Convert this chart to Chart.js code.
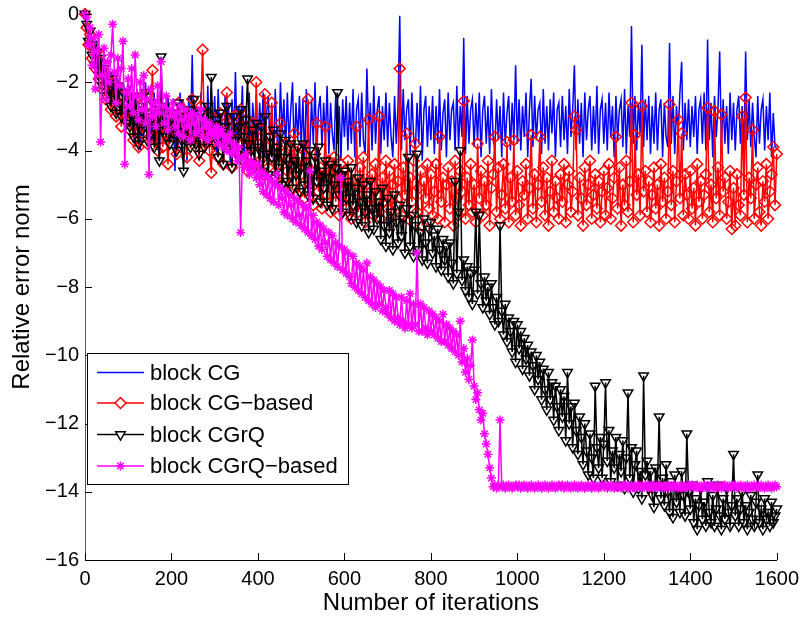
<!DOCTYPE html>
<html>
<head>
<meta charset="utf-8">
<script src="https://cdn.jsdelivr.net/npm/chart.js@4.4.0/dist/chart.umd.min.js"></script>
<style>
  html, body { margin: 0; padding: 0; background: #fff; }
</style>
</head>
<body>
<canvas id="chart" width="806" height="618"></canvas>
<script>
const iterations = Array.from({length: 401}, (_, i) => i * 4);

const blockCG = [
  0, -0.3, -0.7, -0.5, -1.0, -0.8, -1.3, -0.9, -1.5, -1.2, -1.8, -1.4, -2.0, -1.6, -1.9, -2.3, -1.7, -2.2, -2.6, -1.9, -2.4, -2.0, -2.7, -2.2, -2.5,
  -2.8, -2.1, -3.4, -2.6, -3.9, -2.2, -3.1, -4.0, -2.5, -3.6, -2.0, -3.3, -4.2, -2.6, -3.7, -2.3, -3.9, -2.8, -4.3, -2.2, -3.5, -2.7, -3.8, -2.4, -3.3,
  -3.6, -2.5, -4.6, -2.8, -3.9, -2.3, -4.1, -2.6, -3.5, -4.3, -2.4, -3.7, -1.2, -3.9, -2.7, -3.4, -4.2, -2.3, -3.6, -2.6, -4.0, -2.1, -3.8, -2.8, -3.5,
  -2.4, -4.1, -2.2, -3.7, -2.9, -4.3, -2.4, -3.8, -2.6, -4.4, -2.5, -3.6, -1.7, -4.0, -2.7, -3.5, -2.1, -4.2, -2.8, -3.9, -2.3, -4.4, -2.6, -3.6, -2.4,
  -3.9, -2.6, -3.7, -2.3, -4.2, -2.9, -2.4, -4.0, -2.7, -4.3, -2.2, -3.6, -4.1, -2.0, -3.5, -2.5, -4.0, -2.3, -3.8, -2.8, -2.0, -4.2, -2.6, -3.7, -2.4,
  -3.9, -2.5, -4.3, -2.2, -3.6, -4.0, -2.5, -3.8, -2.0, -4.2, -2.8, -2.4, -3.9, -2.6, -3.7, -2.1, -4.1, -2.6, -3.5, -4.0, -2.3, -3.8, -2.7, -4.3, -2.5,
  -3.6, -2.4, -4.0, -2.6, -3.8, -2.2, -4.2, -2.8, -2.5, -3.9, -2.3, -3.7, -4.1, -1.6, -3.5, -2.6, -4.0, -2.1, -3.8, -2.8, -2.4, -4.1, -2.7, -3.7, -2.3,
  -3.9, -2.6, -3.6, -4.2, -2.4, -3.8, -2.7, -0.05, -4.0, -2.2, -3.7, -2.8, -2.5, -4.1, -2.3, -3.6, -4.0, -2.6, -3.8, -2.1, -4.3, -2.8, -2.4, -3.9, -2.7,
  -3.7, -2.4, -4.1, -2.7, -3.8, -2.2, -4.0, -2.9, -2.5, -4.2, -2.3, -3.7, -2.8, -2.6, -4.0, -2.1, -3.9, -2.7, -3.6, -0.7, -4.1, -2.4, -3.8, -2.8, -2.5,
  -3.9, -2.6, -3.7, -2.3, -4.2, -2.8, -2.4, -3.8, -2.7, -4.1, -2.2, -3.6, -4.0, -2.5, -3.7, -2.7, -4.2, -2.3, -3.8, -2.9, -2.4, -4.0, -2.6, -3.7, -1.5,
  -3.8, -2.5, -4.0, -2.7, -3.6, -2.3, -4.2, -2.8, -1.9, -3.9, -2.4, -3.7, -2.8, -2.6, -4.1, -2.2, -3.8, -2.7, -4.0, -2.5, -3.5, -2.3, -4.2, -2.8, -2.6,
  -3.9, -2.4, -3.7, -2.7, -4.1, -2.2, -3.6, -2.8, -1.5, -4.0, -2.5, -3.8, -2.6, -4.2, -2.3, -3.7, -2.8, -2.4, -4.0, -2.7, -3.8, -2.1, -4.1, -2.8, -2.5,
  -3.8, -2.6, -4.0, -2.3, -3.6, -2.7, -4.2, -2.4, -3.7, -2.8, -2.5, -3.9, -2.2, -4.1, -2.7, -3.6, -0.35, -3.8, -2.4, -4.0, -2.6, -3.5, -0.9, -3.9, -2.5,
  -3.7, -2.4, -4.1, -2.7, -3.8, -2.3, -4.0, -2.8, -2.5, -4.2, -2.6, -3.6, -3.9, -0.85, -3.8, -2.4, -4.1, -2.7, -3.5, -2.3, -1.4, -4.0, -2.6, -3.7, -2.5,
  -3.9, -2.7, -3.6, -2.4, -4.1, -2.8, -2.5, -3.8, -2.3, -4.0, -0.75, -3.7, -2.6, -4.2, -2.4, -3.6, -2.8, -1.1, -3.9, -2.5, -3.8, -2.7, -4.1, -2.3, -3.7,
  -2.6, -4.0, -2.8, -2.4, -3.8, -2.7, -4.1, -1.1, -3.7, -2.5, -3.9, -2.6, -3.6, -4.2, -2.4, -3.8, -2.8, -2.5, -4.0, -2.7, -3.7, -2.3, -4.2, -2.9, -3.9,
  -3.9
];

const blockCGBased = [
  0, -0.4, -0.9, -0.6, -1.3, -1.0, -1.6, -1.1, -1.9, -1.4, -2.2, -1.7, -2.5, -1.9, -2.3, -2.8, -2.0, -2.6, -3.0, -2.2, -2.7, -3.3, -2.4, -2.9, -3.1,
  -2.6, -3.4, -2.8, -3.7, -2.5, -3.2, -3.9, -2.7, -3.5, -3.0, -2.4, -3.8, -3.1, -2.9, -1.65, -3.6, -3.0, -4.0, -2.7, -3.3, -3.9, -2.8, -3.5, -4.4, -3.2,
  -2.9, -3.6, -3.2, -4.1, -2.6, -3.4, -3.8, -2.8, -3.5, -4.2, -3.0, -3.7, -2.5, -3.3, -3.9, -3.1, -4.3, -2.7, -1.05, -3.5, -3.8, -3.0, -4.0, -4.65, -3.3,
  -3.7, -3.1, -4.2, -2.9, -3.6, -4.4, -3.2, -2.3, -3.9, -3.4, -4.5, -3.0, -3.7, -4.1, -3.3, -2.8, -4.3, -3.6, -3.1, -4.6, -3.5, -3.9, -3.2, -4.4, -2.0,
  -3.8, -4.3, -3.4, -4.7, -2.35, -3.9, -4.5, -3.6, -2.6, -4.2, -4.8, -3.7, -4.4, -3.2, -5.0, -4.1, -3.8, -4.6, -5.2, -3.9, -4.4, -3.5, -4.9, -5.3, -4.2,
  -4.7, -3.9, -5.4, -4.4, -2.5, -5.0, -4.6, -5.6, -4.1, -3.2, -5.2, -4.5, -5.7, -4.8, -3.3, -5.3, -4.3, -5.8, -4.9, -4.2, -5.5, -4.6, -5.9, -4.4, -5.1,
  -4.6, -5.7, -4.3, -5.4, -6.0, -4.9, -5.2, -3.3, -5.8, -4.5, -5.5, -4.2, -6.1, -5.0, -3.1, -5.6, -4.7, -5.9, -4.4, -5.3, -3.0, -6.0, -4.8, -5.5, -4.3,
  -5.7, -4.6, -6.1, -5.0, -4.4, -5.6, -4.9, -1.6, -5.9, -4.5, -5.3, -3.5, -6.0, -4.8, -5.5, -4.3, -3.8, -5.8, -5.1, -4.6, -6.2, -4.9, -5.4, -4.4, -5.7,
  -4.7, -5.9, -5.2, -4.4, -6.0, -3.6, -5.5, -4.8, -6.1, -5.0, -4.5, -5.7, -4.9, -6.2, -4.3, -5.4, -5.9, -4.6, -5.2, -2.55, -6.0, -4.8, -5.6, -4.4, -5.8,
  -5.0, -6.1, -3.8, -5.4, -4.6, -5.9, -4.9, -5.6, -4.3, -6.2, -5.1, -4.7, -3.6, -5.8, -4.5, -6.0, -5.3, -4.4, -5.7, -3.75, -6.1, -4.8, -5.5, -3.7, -5.9,
  -4.6, -5.6, -6.2, -4.9, -5.3, -4.4, -6.0, -5.1, -3.55, -5.7, -4.7, -6.1, -5.0, -3.6, -5.5, -4.5, -5.9, -4.8, -6.2, -5.2, -4.3, -5.8, -4.9, -5.4, -6.0,
  -4.7, -5.5, -4.4, -6.1, -5.0, -4.6, -5.8, -5.2, -3.0, -3.4, -5.9, -4.8, -5.4, -6.2, -4.5, -5.6, -5.0, -4.3, -6.0, -5.3, -4.7, -5.7, -4.9, -6.1, -5.2,
  -4.6, -5.9, -5.1, -4.4, -6.0, -5.4, -4.8, -3.6, -5.7, -4.5, -6.2, -5.0, -5.6, -4.3, -5.8, -4.9, -2.6, -6.1, -3.55, -5.3, -4.7, -5.9, -2.7, -5.2, -4.6,
  -5.8, -4.9, -6.1, -5.3, -4.5, -5.7, -5.0, -6.2, -4.4, -5.5, -4.8, -6.0, -5.2, -2.65, -5.6, -4.6, -6.1, -4.9, -3.1, -5.4, -3.5, -5.9, -4.7, -5.3, -6.0,
  -4.6, -5.7, -5.1, -6.2, -4.4, -5.5, -4.9, -6.0, -5.3, -4.7, -2.75, -5.8, -5.0, -6.1, -2.85, -5.4, -4.5, -5.9, -2.95, -5.2, -4.8, -6.0, -5.5, -4.6, -6.3,
  -5.1, -6.2, -4.7, -5.6, -5.9, -3.0, -5.3, -2.45, -6.1, -4.8, -5.4, -3.4, -6.0, -5.0, -4.5, -5.8, -6.2, -4.9, -5.5, -4.4, -6.0, -5.2, -4.7, -3.9, -5.6,
  -4.1
];

const blockCGrQ = [
  0, -0.3, -0.8, -0.5, -1.2, -0.9, -1.5, -1.1, -1.8, -1.3, -2.1, -1.6, -2.4, -1.8, -2.2, -2.7, -1.9, -2.5, -2.9, -2.1, -2.6, -3.0, -2.3, -2.8, -3.2,
  -2.5, -3.3, -2.8, -3.6, -2.4, -3.1, -3.8, -2.7, -3.4, -2.9, -2.3, -3.7, -3.0, -3.5, -2.6, -3.9, -3.2, -2.8, -4.3, -1.25, -3.4, -2.7, -3.6, -3.0, -3.8,
  -2.9, -3.5, -3.2, -4.0, -2.6, -3.3, -3.7, -4.6, -3.0, -3.6, -2.8, -3.9, -3.4, -2.5, -3.8, -3.1, -4.1, -2.9, -3.5, -3.9, -3.2, -2.7, -3.7, -1.85, -3.4,
  -3.8, -3.1, -4.2, -2.9, -3.6, -4.4, -3.3, -2.7, -3.9, -3.5, -4.5, -3.0, -3.7, -4.1, -3.3, -2.8, -4.3, -3.6, -3.1, -1.9, -3.8, -4.0, -3.4, -4.5, -3.2,
  -3.9, -4.4, -3.3, -4.6, -3.0, -4.1, -4.7, -3.6, -4.2, -3.4, -4.8, -3.9, -4.5, -3.5, -5.0, -4.2, -3.7, -4.9, -4.4, -3.8, -5.1, -4.3, -4.7, -3.9, -5.2,
  -4.5, -3.8, -5.0, -4.3, -5.3, -4.0, -4.7, -5.4, -4.2, -4.9, -3.9, -5.5, -4.6, -5.1, -4.3, -5.6, -4.8, -4.4, -5.7, -5.0, -4.5, -2.3, -5.3, -4.7, -5.8,
  -4.6, -5.4, -4.9, -5.9, -4.5, -5.6, -5.1, -6.1, -4.8, -5.5, -6.2, -5.0, -5.8, -5.3, -6.4, -4.9, -5.7, -6.3, -5.2, -6.0, -5.5, -6.6, -5.1, -6.2, -6.8,
  -5.4, -6.4, -5.8, -6.9, -5.3, -6.1, -6.7, -5.6, -6.5, -6.0, -7.0, -5.7, -4.2, -6.8, -5.9, -7.1, -6.2, -4.1, -6.9, -6.4, -7.2, -6.0, -6.7, -7.3, -6.3,
  -6.1, -7.0, -6.5, -7.4, -6.3, -6.9, -7.5, -6.6, -7.2, -6.8, -7.7, -6.7, -7.3, -7.9, -4.9, -7.6, -5.8, -4.0, -7.8, -7.2, -8.1, -7.4, -8.3, -7.6, -8.5,
  -7.5, -5.8, -8.2, -5.9, -7.9, -8.6, -7.7, -8.4, -8.0, -8.8, -7.9, -8.6, -9.1, -8.3, -9.0, -6.2, -8.7, -9.4, -8.5, -9.6, -8.9, -9.3, -9.9, -9.0, -10.2,
  -9.1, -9.8, -9.3, -10.4, -9.5, -10.1, -9.7, -10.6, -9.9, -10.3, -11.0, -10.0, -10.7, -10.2, -11.3, -10.4, -11.0, -11.6, -10.5, -11.3, -10.8, -11.9, -10.9, -11.5, -12.2,
  -11.0, -11.8, -11.2, -12.5, -10.5, -12.0, -11.5, -12.7, -11.4, -12.2, -12.9, -11.8, -12.4, -13.2, -12.0, -12.8, -13.5, -12.3, -13.0, -13.6, -10.9, -12.7, -13.3, -12.4, -13.6,
  -12.6, -10.8, -13.1, -12.2, -13.7, -12.8, -13.3, -12.4, -13.8, -12.9, -13.4, -12.5, -13.9, -13.0, -11.1, -13.6, -12.7, -14.0, -13.2, -12.8, -13.9, -13.4, -14.2, -10.6, -13.5,
  -13.1, -13.9, -13.4, -14.1, -14.45, -13.3, -13.8, -11.8, -14.2, -13.6, -14.4, -13.2, -14.0, -14.6, -13.7, -14.75, -13.5, -14.3, -13.9, -14.6, -13.4, -14.1, -14.7, -12.3, -14.0,
  -14.5, -13.8, -14.9, -14.2, -15.1, -14.4, -13.9, -14.8, -14.3, -15.0, -13.7, -14.6, -14.9, -14.1, -15.0, -14.5, -13.8, -14.7, -15.1, -14.2, -14.8, -13.9, -14.6, -15.0, -14.4,
  -12.9, -14.7, -14.2, -15.0, -14.5, -14.0, -14.9, -14.4, -15.1, -14.6, -14.1, -14.8, -15.0, -14.3, -13.5, -14.9, -14.5, -15.1, -14.2, -14.8, -14.6, -15.0, -14.3, -14.9, -14.7,
  -14.5
];

const blockCGrQBased = [
  0, -0.1, -0.9, -0.4, -1.5, -0.7, -2.2, -1.1, -0.6, -3.75, -1.8, -1.0, -2.5, -1.4, -2.0, -1.2, -0.3, -1.7, -2.6, -1.3, -2.1, -1.6, -0.8, -4.4, -2.3,
  -1.9, -2.7, -1.6, -2.9, -1.2, -2.4, -3.1, -2.0, -2.8, -1.8, -3.2, -2.5, -4.7, -2.2, -3.0, -2.6, -3.3, -2.1, -2.9, -1.4, -2.7, -3.2, -2.4, -3.4, -2.8,
  -3.0, -2.6, -3.3, -2.9, -3.5, -2.7, -3.1, -3.6, -2.8, -3.3, -3.0, -3.7, -2.9, -3.2, -3.5, -3.0, -3.4, -2.8, -3.6, -3.1, -3.3, -3.7, -3.2, -3.5, -3.4,
  -3.6, -3.3, -3.8, -3.5, -3.4, -3.9, -3.6, -4.0, -3.7, -3.5, -4.1, -3.8, -4.0, -4.3, -3.9, -6.4, -4.2, -4.5, -4.1, -4.4, -4.7, -4.3, -4.6, -4.4, -4.8,
  -4.4, -5.0, -4.6, -5.2, -4.7, -5.3, -4.8, -5.4, -4.9, -5.5, -5.0, -4.7, -5.6, -5.1, -5.4, -5.8, -5.2, -5.9, -5.3, -5.6, -6.0, -5.4, -6.1, -5.5, -5.9,
  -6.2, -5.6, -6.3, -5.7, -6.4, -4.6, -6.5, -5.9, -6.6, -6.1, -6.8, -6.2, -6.9, -6.3, -6.7, -7.1, -6.4, -7.2, -6.5, -7.3, -6.7, -7.4, -6.8, -4.8, -7.5,
  -6.9, -7.6, -7.0, -7.7, -7.9, -7.1, -8.0, -7.3, -8.1, -7.4, -8.2, -7.5, -8.3, -7.3, -8.4, -7.7, -8.5, -7.8, -8.6, -7.9, -8.5, -8.0, -8.7, -8.1, -8.6,
  -8.8, -8.1, -8.9, -8.2, -9.0, -8.3, -8.9, -9.1, -8.3, -9.0, -9.2, -8.4, -9.1, -8.2, -9.2, -8.5, -9.1, -7.0, -9.3, -8.5, -9.3, -8.6, -9.2, -9.4, -8.7,
  -9.3, -8.8, -9.4, -8.9, -9.5, -9.0, -9.6, -8.8, -9.6, -9.1, -9.7, -9.2, -9.8, -9.3, -9.9, -9.4, -10.0, -9.0, -10.2, -9.8, -10.5, -10.1, -10.7, -10.3, -9.55,
  -10.9, -11.3, -11.1, -11.6, -11.9, -11.7, -12.3, -12.6, -12.9, -13.3, -13.6, -13.85, -13.8, -13.9, -13.85, -11.9, -13.85, -13.8, -13.9, -13.85, -13.8, -13.85, -13.9, -13.85, -13.8,
  -13.85, -13.8, -13.9, -13.85, -13.8, -13.85, -13.9, -13.85, -13.8, -13.85, -13.9, -13.85, -13.8, -13.85, -13.9, -13.85, -13.8, -13.85, -13.9, -13.85, -13.8, -13.85, -13.9, -13.85, -13.8,
  -13.85, -13.8, -13.9, -13.85, -13.8, -13.85, -13.9, -13.85, -13.8, -13.85, -13.9, -13.85, -13.8, -13.85, -13.9, -13.85, -13.8, -13.85, -13.9, -13.85, -13.8, -13.85, -13.9, -13.85, -13.8,
  -13.85, -13.8, -13.9, -13.85, -13.8, -13.85, -13.9, -13.85, -13.8, -13.85, -13.9, -13.85, -13.8, -13.85, -13.9, -13.85, -13.8, -13.85, -13.9, -13.85, -13.8, -13.85, -13.9, -13.85, -13.8,
  -13.85, -13.8, -13.9, -13.85, -13.8, -13.85, -13.9, -13.85, -13.8, -13.85, -13.9, -13.85, -13.8, -13.85, -13.9, -13.85, -13.8, -13.85, -13.9, -13.85, -13.8, -13.85, -13.9, -13.85, -13.8,
  -13.85, -13.8, -13.9, -13.85, -13.8, -13.85, -13.9, -13.85, -13.8, -13.85, -13.9, -13.85, -13.8, -13.85, -13.9, -13.85, -13.8, -13.85, -13.9, -13.85, -13.8, -13.85, -13.9, -13.85, -13.8,
  -13.85, -13.8, -13.9, -13.85, -13.8, -13.85, -13.9, -13.85, -13.8, -13.85, -13.9, -13.85, -13.8, -13.85, -13.9, -13.85, -13.8, -13.85, -13.9, -13.85, -13.8, -13.85, -13.9, -13.85, -13.8,
  -13.85
];

const seriesNames = ['block CG', 'block CG\u2212based', 'block CGrQ', 'block CGrQ\u2212based'];
const xTicks = [0, 200, 400, 600, 800, 1000, 1200, 1400, 1600];
const yTicks = [0, -2, -4, -6, -8, -10, -12, -14, -16];

const FONT = "'Liberation Sans', Arial, Helvetica, sans-serif";
const styles = [
  {color: '#0000ff', pointStyle: false, radius: 0, rotation: 0},
  {color: '#ff0000', pointStyle: 'rectRot', radius: 5.5, rotation: 0},
  {color: '#000000', pointStyle: 'triangle', radius: 5.5, rotation: 180},
  {color: '#ff00ff', pointStyle: 'star', radius: 4.5, rotation: 0}
];

function toPoints(values) {
  return values.map((v, i) => ({x: iterations[i], y: v}));
}

const allValues = [blockCG, blockCGBased, blockCGrQ, blockCGrQBased];

const datasets = allValues.map((vals, k) => ({
  label: seriesNames[k],
  data: toPoints(vals),
  borderColor: styles[k].color,
  borderWidth: 1.5,
  pointStyle: styles[k].pointStyle,
  pointRadius: styles[k].radius,
  pointRotation: styles[k].rotation,
  pointBorderColor: styles[k].color,
  pointBackgroundColor: 'rgba(0,0,0,0)',
  pointBorderWidth: 1.5,
  tension: 0,
  clip: false,
  order: 3 - k   // later series drawn on top, like matlab
}));

// inward tick marks
const axisTicks = {
  id: 'axisTicks',
  afterDraw(chart) {
    const {ctx, chartArea: a, scales: {x, y}} = chart;
    ctx.save();
    ctx.strokeStyle = '#000';
    ctx.lineWidth = 1;
    ctx.beginPath();
    xTicks.forEach(v => {
      const px = Math.round(x.getPixelForValue(v)) + 0.5;
      ctx.moveTo(px, a.bottom);
      ctx.lineTo(px, a.bottom - 7);
    });
    yTicks.forEach(v => {
      const py = Math.round(y.getPixelForValue(v)) + 0.5;
      ctx.moveTo(a.left, py);
      ctx.lineTo(a.left + 7, py);
    });
    ctx.stroke();
    ctx.restore();
  }
};

// boxed legend inside the lower left of the plot
const boxLegend = {
  id: 'boxLegend',
  afterDraw(chart) {
    const ctx = chart.ctx;
    const bx = 87.5, by = 353.5, bw = 261, bh = 131;
    ctx.save();
    ctx.fillStyle = '#fff';
    ctx.fillRect(bx, by, bw, bh);
    ctx.strokeStyle = '#000';
    ctx.lineWidth = 1;
    ctx.strokeRect(bx, by, bw, bh);
    const rows = [372.5, 403, 434.5, 466];
    ctx.font = '22px ' + FONT;
    ctx.textBaseline = 'middle';
    seriesNames.forEach((name, k) => {
      const yy = rows[k];
      const st = styles[k];
      ctx.strokeStyle = st.color;
      ctx.lineWidth = 1.5;
      ctx.beginPath();
      ctx.moveTo(97, yy);
      ctx.lineTo(144, yy);
      ctx.stroke();
      if (st.pointStyle) {
        ctx.fillStyle = '#fff';
        ctx.strokeStyle = st.color;
        Chart.helpers.drawPoint(ctx, {pointStyle: st.pointStyle, radius: st.radius, rotation: st.rotation, borderWidth: 1.5}, 120.5, yy);
      }
      ctx.fillStyle = '#000';
      ctx.fillText(name, 150, yy + 1);
    });
    ctx.restore();
  }
};

const minusSign = v => String(v).replace('-', '\u2212');

new Chart(document.getElementById('chart'), {
  type: 'line',
  data: {datasets},
  options: {
    responsive: false,
    animation: false,
    events: [],
    layout: {padding: {top: 14, right: 26, left: 0, bottom: 0}},
    plugins: {legend: {display: false}, tooltip: {enabled: false}},
    scales: {
      x: {
        type: 'linear',
        min: 0, max: 1600,
        afterFit: s => { s.height = 58; },
        afterBuildTicks: s => { s.ticks = xTicks.map(v => ({value: v})); },
        grid: {display: false, drawTicks: false},
        border: {display: true, color: '#000', width: 1},
        ticks: {color: '#000', padding: 7, maxRotation: 0, font: {family: FONT, size: 20}, callback: minusSign},
        title: {display: true, text: 'Number of iterations', color: '#000', padding: {top: 0, bottom: 0}, font: {family: FONT, size: 24}}
      },
      y: {
        type: 'linear',
        min: -16, max: 0,
        afterFit: s => { s.width = 85; s.paddingTop = 0; s.paddingBottom = 0; },
        afterBuildTicks: s => { s.ticks = yTicks.map(v => ({value: v})); },
        grid: {display: false, drawTicks: false},
        border: {display: true, color: '#555', width: 1},
        ticks: {color: '#000', padding: 6, font: {family: FONT, size: 20}, callback: minusSign},
        title: {display: true, text: 'Relative error norm', color: '#000', padding: {top: 8, bottom: 0}, font: {family: FONT, size: 24}}
      }
    }
  },
  plugins: [axisTicks, boxLegend]
});
</script>
</body>
</html>
